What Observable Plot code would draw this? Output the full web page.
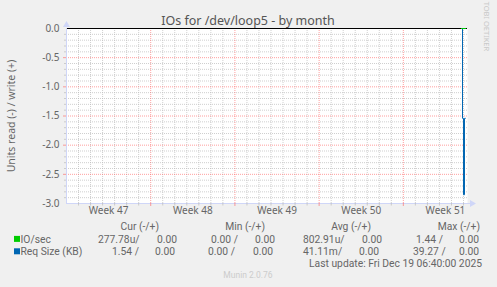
<!DOCTYPE html>
<html><head><meta charset="utf-8">
<script src="https://cdn.jsdelivr.net/npm/d3@7"></script>
<script src="https://cdn.jsdelivr.net/npm/@observablehq/plot@0.6"></script>
<style>
html,body{margin:0;padding:0;background:#f0f0f0;overflow:hidden;}
#chart{width:497px;height:287px;}
svg{display:block;}
</style></head><body><div id="chart"></div>
<script>
const title = "IOs for /dev/loop5 - by month";
const yAxisLabel = "Units read (-) / write (+)";
const weekStarts = ["2025-11-16T00:00Z","2025-11-23T00:00Z","2025-11-30T00:00Z","2025-12-07T00:00Z","2025-12-14T00:00Z"];
const weekLabels = ["Week 47","Week 48","Week 49","Week 50","Week 51"];
const yTicks = [0, -0.5, -1, -1.5, -2, -2.5, -3];
const sampleTimes = ["2025-12-18T20:00Z","2025-12-18T22:00Z","2025-12-19T00:00Z","2025-12-19T02:00Z","2025-12-19T04:00Z"];
const ioRead = [0, 0.00028, 0.00144, 0.0008, 0.00028];
const ioWrite = [0, 0, 0, 0, 0];
const reqRead = [0, 1.54, 2.85, 1.54, 1.54];
const reqWrite = [0, 0, 0, 0, 0];
const seriesNames = ["IO/sec", "Req Size (KB)"];
const seriesColors = ["#00cc00", "#0066b3"];
const legendHeaders = ["Cur (-/+)", "Min (-/+)", "Avg (-/+)", "Max (-/+)"];
const ioStats = ["277.78u/", "0.00", "0.00 /", "0.00", "802.91u/", "0.00", "1.44 /", "0.00"];
const reqStats = ["1.54 /", "0.00", "0.00 /", "0.00", "41.11m/", "0.00", "39.27 /", "0.00"];
const lastUpdate = "Last update: Fri Dec 19 06:40:00 2025";
const watermark = "Munin 2.0.76";
const sideText = "RRDTOOL / TOBI OETIKER";

const FONT = "Noto Sans";
const LFONT = "Roboto";
const TXT = "#666666";
const start = new Date("2025-11-16T00:00Z");
const end = new Date("2025-12-19T08:00Z");
const weekDates = weekStarts.map(d => new Date(d));
const weekMid = weekDates.map((d, i) => ({t: new Date(+d + 3.5 * 864e5), label: weekLabels[i]}));
const weekGrid = weekDates.slice(1);
const dayGrid = d3.utcDay.range(new Date(+start + 864e5), end).filter(d => d.getUTCDay() !== 0);
const minorY = d3.range(1, 30).filter(k => k % 5 !== 0).map(k => -k / 10);
const majorY = [-0.5, -1, -1.5, -2, -2.5];

const times = sampleTimes.map(d => new Date(d));
const rows = (vals, sign) => vals.map((v, i) => ({t: times[i], v: sign * v}));
const ioR = rows(ioRead, -1), ioW = rows(ioWrite, 1);
const rqR = rows(reqRead, -1), rqW = rows(reqWrite, 1);

const gridStyle = {stroke: "#bababa", strokeOpacity: 0.7, strokeDasharray: "1,1"};
const mgridStyle = {stroke: "#ff5f5f", strokeOpacity: 0.6, strokeDasharray: "1,1"};

const plot = Plot.plot({
  width: 497, height: 287,
  marginLeft: 66, marginRight: 30, marginTop: 28, marginBottom: 84,
  x: {type: "utc", domain: [start, end], axis: null},
  y: {domain: [-3, 0], axis: null},
  style: {background: "transparent", fontFamily: FONT, fontSize: "10px", color: TXT},
  marks: [
    Plot.frame({fill: "#ffffff", stroke: null}),
    Plot.ruleY(minorY, gridStyle),
    Plot.ruleX(dayGrid, gridStyle),
    Plot.ruleY(majorY, mgridStyle),
    Plot.ruleX(weekGrid, mgridStyle),
    Plot.ruleY([0], {stroke: "#000000"}),
    Plot.line(rqR, {x: "t", y: "v", stroke: seriesColors[1], strokeWidth: 1, curve: "step-after"}),
    Plot.line(rqW, {x: "t", y: "v", stroke: seriesColors[1], strokeWidth: 1, curve: "step-after"}),
    Plot.line(ioR, {x: "t", y: "v", stroke: seriesColors[0], strokeWidth: 1, curve: "step-after"}),
    Plot.line(ioW, {x: "t", y: "v", stroke: seriesColors[0], strokeWidth: 1, curve: "step-after"}),
    Plot.ruleX([start], {stroke: "#cfd6f8"}),
    Plot.ruleY([-3], {stroke: "#cfd6f8"}),
    Plot.text(yTicks, {y: d => d, text: d => d.toFixed(1), frameAnchor: "left", textAnchor: "end", dx: -7, fill: TXT}),
    Plot.text(weekMid, {x: "t", text: "label", frameAnchor: "bottom", dy: 10, fill: TXT})
  ]
});
document.getElementById("chart").appendChild(plot);

const svg = d3.select(plot);
const xs = plot.scale("x"), ys = plot.scale("y");
const x0 = xs.apply(start), x1 = xs.apply(end);
const yTop = ys.apply(0), yBot = ys.apply(-3);
const axisC = "#cfd6f8";
// small tick marks outside the plot
dayGrid.forEach(d => svg.append("line").attr("x1", xs.apply(d) + 0.5).attr("x2", xs.apply(d) + 0.5)
  .attr("y1", yBot).attr("y2", yBot + 2.5).attr("stroke", "#bababa").attr("stroke-opacity", 0.7));
weekGrid.forEach(d => svg.append("line").attr("x1", xs.apply(d) + 0.5).attr("x2", xs.apply(d) + 0.5)
  .attr("y1", yBot).attr("y2", yBot + 3).attr("stroke", "#ff5f5f").attr("stroke-opacity", 0.6));
minorY.forEach(v => svg.append("line").attr("x1", x0 - 2).attr("x2", x0).attr("y1", ys.apply(v) + 0.5)
  .attr("y2", ys.apply(v) + 0.5).attr("stroke", "#bababa").attr("stroke-opacity", 0.7));
majorY.forEach(v => svg.append("line").attr("x1", x0 - 3).attr("x2", x0).attr("y1", ys.apply(v) + 0.5)
  .attr("y2", ys.apply(v) + 0.5).attr("stroke", "#ff5f5f").attr("stroke-opacity", 0.6));
// axis extensions and arrows
svg.append("line").attr("x1", x1).attr("x2", x1 + 4).attr("y1", yBot + 0.5).attr("y2", yBot + 0.5).attr("stroke", axisC);
svg.append("path").attr("d", `M${x1 + 3},${yBot - 3}L${x1 + 9},${yBot + 0.5}L${x1 + 3},${yBot + 4}Z`).attr("fill", axisC);
svg.append("path").attr("d", `M${x0 - 3},${yTop - 1}L${x0 + 0.5},${yTop - 7}L${x0 + 4},${yTop - 1}Z`).attr("fill", axisC);

const txt = (x, y, s, opts = {}) => svg.append("text")
  .attr("x", x).attr("y", y).text(s)
  .attr("font-family", opts.font || LFONT).attr("font-size", opts.size || 10.3)
  .attr("fill", opts.fill || TXT).attr("text-anchor", opts.anchor || "start")
  .style("white-space", "pre");

txt(248, 25, title, {size: 12.5, anchor: "middle", fill: "#555", font: FONT});
svg.append("text").attr("transform", "translate(15,116) rotate(-90)")
  .attr("text-anchor", "middle").attr("font-family", FONT).attr("font-size", 10.5)
  .attr("fill", TXT).text(yAxisLabel);
svg.append("text").attr("transform", "translate(484,6) rotate(90)")
  .attr("font-family", FONT).attr("font-size", 7.5).attr("fill", "#c8c8c8").text(sideText);

// legend
const headerRight = [159, 265, 371, 480];
legendHeaders.forEach((h, i) => txt(headerRight[i], 230.3, h, {anchor: "end"}));
const rowY = [242.9, 255.3];
seriesColors.forEach((c, i) => {
  svg.append("rect").attr("x", 14).attr("y", rowY[i] - 7).attr("width", 6).attr("height", 6).attr("fill", c);
  txt(20.5, rowY[i], seriesNames[i]);
});
const ioX = [98, 157, 211, 255, 303, 362, 416, 459];
const rqX = [112, 155, 208, 253, 303, 359, 413, 459];
ioStats.forEach((s, i) => txt(ioX[i], rowY[0], s));
reqStats.forEach((s, i) => txt(rqX[i], rowY[1], s));
txt(482, 267.3, lastUpdate, {anchor: "end"});
txt(248, 278.3, watermark, {anchor: "middle", size: 8.5, fill: "#cccccc"});
</script>
</body></html>
